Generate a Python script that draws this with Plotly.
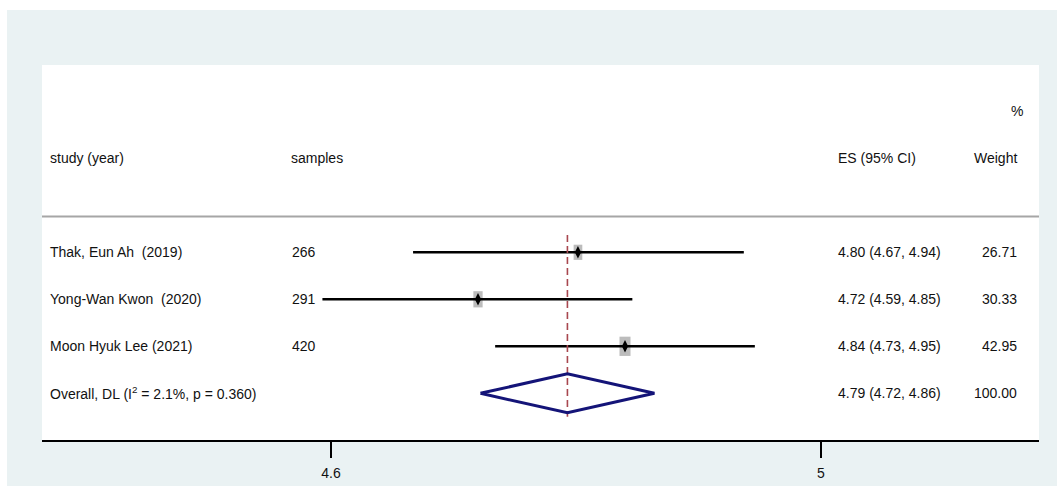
import plotly.graph_objects as go

# ---- data ----
studies = ["Thak, Eun Ah  (2019)", "Yong-Wan Kwon  (2020)", "Moon Hyuk Lee (2021)"]
samples = [266, 291, 420]
es = [4.8016, 4.720, 4.840]
ci_lo = [4.667, 4.593, 4.734]
ci_hi = [4.937, 4.846, 4.946]
weights = [26.71, 30.33, 42.95]
overall_label = "Overall, DL (I<sup>2</sup> = 2.1%, p = 0.360)"
overall_es = 4.793
overall_lo = 4.722
overall_hi = 4.864
overall_weight = 100.00
tick_vals = [4.6, 5]
tick_text = ["4.6", "5"]

# ---- layout geometry ----
W, H = 1057, 486
L, R, T, B = 42, 18, 65, 46
PW, PH = W - L - R, H - T - B
FONT = "Liberation Sans, Arial, sans-serif"
FS = 14
TXT = "#111111"
BG = "#eaf2f3"
PX_PER_X = 1225.0   # pixels per x unit
PX_PER_ROW = 47.0   # pixels per row

def px_x(p):
    return (p - L) / PW

def px_y(p):
    return (H - B - p) / PH

n = len(studies)
rows = list(range(n))
orow = n

fig = go.Figure()

shapes = [
    # white strips at top and left of the image
    dict(type="rect", xref="paper", yref="paper", x0=px_x(0), x1=px_x(W),
         y0=px_y(10), y1=px_y(0), fillcolor="white", line=dict(width=0), layer="below"),
    dict(type="rect", xref="paper", yref="paper", x0=px_x(0), x1=px_x(7),
         y0=px_y(H), y1=px_y(0), fillcolor="white", line=dict(width=0), layer="below"),
    # header separator
    dict(type="line", xref="paper", yref="y", x0=0, x1=1, y0=-0.76, y1=-0.76,
         line=dict(color="#a6a6a6", width=2)),
]

# weight boxes (side proportional to sqrt(weight), tall aspect as in the reference)
for i in rows:
    wpx = 1.68 * weights[i] ** 0.5
    hpx = 1.75 * wpx
    shapes.append(dict(type="rect", xref="x", yref="y", layer="below",
                       x0=es[i] - wpx / 2 / PX_PER_X, x1=es[i] + wpx / 2 / PX_PER_X,
                       y0=i - hpx / 2 / PX_PER_ROW, y1=i + hpx / 2 / PX_PER_ROW,
                       fillcolor="#bcbcbc", line=dict(width=0)))

# CI lines
xs, ys = [], []
for i in rows:
    xs += [ci_lo[i], ci_hi[i], None]
    ys += [i, i, None]
fig.add_trace(go.Scatter(x=xs, y=ys, mode="lines",
                         line=dict(color="black", width=2.6),
                         hoverinfo="skip", showlegend=False))

# point estimates
fig.add_trace(go.Scatter(x=es, y=rows, mode="markers",
                         marker=dict(symbol="diamond-tall", color="black", size=9,
                                     line=dict(width=0)),
                         hoverinfo="skip", showlegend=False))

# overall dashed line
fig.add_trace(go.Scatter(x=[overall_es, overall_es], y=[-0.37, 3.5], mode="lines",
                         line=dict(color="#a8474f", width=1.6, dash="7px,4px"),
                         hoverinfo="skip", showlegend=False))

# overall diamond
hh = 0.415
fig.add_trace(go.Scatter(x=[overall_lo, overall_es, overall_hi, overall_es, overall_lo],
                         y=[orow, orow - hh, orow, orow + hh, orow],
                         mode="lines", line=dict(color="#141478", width=3),
                         hoverinfo="skip", showlegend=False))

def text(x, y, s, anchor="left"):
    fig.add_annotation(x=px_x(x), xref="paper", y=y, yref="y", text=s,
                       showarrow=False, xanchor=anchor, yanchor="middle",
                       font=dict(family=FONT, size=FS, color=TXT))

# headers
text(48, -2, "study (year)")
text(289, -2, "samples")
text(836, -2, "ES (95% CI)")
text(1019, -2, "Weight", "right")
text(1025, -3, "%", "right")

for i in rows:
    text(48, i, studies[i])
    text(290, i, str(samples[i]))
    text(836, i, f"{es[i]:.2f} ({ci_lo[i]:.2f}, {ci_hi[i]:.2f})")
    text(1019, i, f"{weights[i]:.2f}", "right")

text(48, orow, overall_label)
text(836, orow, f"{overall_es:.2f} ({overall_lo:.2f}, {overall_hi:.2f})")
text(1019, orow, f"{overall_weight:.2f}", "right")

fig.update_layout(shapes=shapes)

fig.update_layout(
    template="none",
    width=W, height=H, autosize=False,
    margin=dict(l=L, r=R, t=T, b=B, pad=0, autoexpand=False),
    paper_bgcolor=BG, plot_bgcolor="white",
    showlegend=False,
    xaxis=dict(range=[4.6 - (331 - L) / PX_PER_X, 5 + (W - R - 821) / PX_PER_X],
               tickvals=tick_vals, ticktext=tick_text,
               ticks="outside", ticklen=16, tickwidth=1.5, tickcolor="black",
               showline=True, linewidth=2, linecolor="black",
               showgrid=False, zeroline=False, automargin=False,
               tickfont=dict(family=FONT, size=FS, color=TXT),
               ticklabelstandoff=3, fixedrange=True),
    yaxis=dict(range=[(440 - 252.3) / PX_PER_ROW, (65 - 252.3) / PX_PER_ROW], automargin=False,
               visible=False, showgrid=False, zeroline=False, fixedrange=True),
)

fig.write_html("out.html")
